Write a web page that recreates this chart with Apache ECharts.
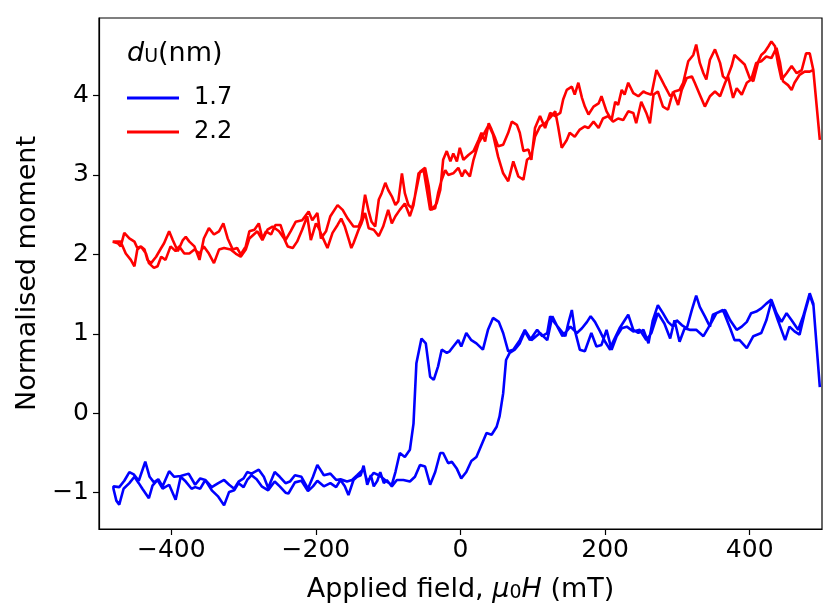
<!DOCTYPE html>
<html>
<head>
<meta charset="utf-8">
<script src="https://cdn.jsdelivr.net/npm/echarts@6/dist/echarts.min.js"></script>
<style>
  html, body { margin: 0; padding: 0; background: #fff; }
  #loopChart { width: 838px; height: 615px; }
</style>
</head>
<body>
<div id="loopChart"></div>
<script>
// d_U = 1.7 nm, branch swept down from +500 mT (listed here in rising field order)
const blueDownField = [-480, -472, -465, -458, -452, -445, -436, -430, -424, -418, -412, -403, -396, -387, -376, -367, -360, -353, -344, -335, -327, -320, -313, -307, -300, -295, -289, -279, -272, -266, -257, -250, -242, -236, -229, -220, -211, -204, -198, -189, -180, -172, -166, -157, -150, -143, -134, -129, -120, -111, -102, -95, -90, -84, -77, -70, -65, -61, -54, -48, -42, -37, -31, -26, -19, -15, -10, -3, 1, 8, 15, 22, 31, 38, 45, 53, 59, 66, 73, 82, 89, 98, 110, 120, 127, 134, 141, 152, 161, 168, 175, 180, 186, 193, 200, 207, 211, 220, 232, 239, 246, 253, 260, 266, 273, 280, 287, 294, 299, 306, 313, 320, 326, 331, 338, 345, 349, 359, 366, 373, 382, 389, 396, 402, 409, 416, 423, 430, 437, 444, 451, 458, 467, 474, 483, 488, 497];
const blueDownMoment = [-0.92, -0.93, -0.85, -0.74, -0.77, -0.85, -0.61, -0.80, -0.87, -0.83, -0.92, -0.73, -0.80, -0.79, -0.76, -0.90, -0.82, -0.84, -0.93, -0.88, -0.84, -0.90, -0.95, -0.86, -0.82, -0.74, -0.76, -0.71, -0.80, -0.94, -0.74, -0.80, -0.88, -0.86, -0.78, -0.80, -0.95, -0.80, -0.65, -0.78, -0.76, -0.84, -0.83, -0.86, -0.84, -0.78, -0.70, -0.86, -0.75, -0.79, -0.86, -0.90, -0.74, -0.50, -0.55, -0.46, -0.13, 0.63, 0.94, 0.88, 0.46, 0.42, 0.59, 0.80, 0.76, 0.78, 0.84, 0.92, 0.84, 1.01, 0.92, 0.88, 0.80, 1.05, 1.20, 1.15, 1.01, 0.78, 0.80, 0.92, 1.05, 0.92, 1.01, 0.92, 1.22, 1.09, 0.97, 1.09, 1.01, 1.07, 1.15, 1.22, 1.15, 1.03, 0.90, 0.80, 0.90, 1.07, 1.24, 1.05, 1.01, 1.05, 0.88, 1.17, 1.36, 1.26, 1.15, 1.09, 1.17, 1.11, 1.07, 1.30, 1.48, 1.34, 1.22, 1.09, 1.24, 1.28, 1.30, 1.17, 1.05, 1.09, 1.15, 1.26, 1.28, 1.32, 1.38, 1.43, 1.26, 1.15, 1.26, 1.17, 1.05, 1.22, 1.51, 1.38, 0.33];

// d_U = 1.7 nm, branch swept back up from -480 mT
const blueUpField = [-480, -476, -472, -466, -458, -451, -445, -440, -431, -426, -419, -412, -403, -394, -387, -380, -372, -367, -360, -353, -344, -335, -327, -320, -313, -307, -300, -295, -289, -282, -275, -266, -257, -250, -242, -238, -229, -220, -211, -204, -198, -189, -180, -172, -166, -160, -155, -148, -143, -138, -134, -129, -124, -120, -115, -111, -106, -102, -95, -88, -79, -70, -63, -56, -49, -42, -35, -28, -24, -17, -12, -5, 1, 8, 15, 22, 29, 36, 43, 50, 54, 59, 63, 68, 75, 82, 89, 96, 106, 113, 120, 124, 131, 138, 145, 149, 154, 158, 165, 172, 181, 188, 195, 202, 209, 216, 223, 230, 239, 248, 257, 264, 273, 282, 290, 296, 303, 310, 317, 326, 336, 345, 354, 363, 373, 379, 386, 396, 405, 416, 423, 430, 439, 449, 455, 462, 469, 476, 483, 488];
const blueUpMoment = [-0.95, -1.10, -1.15, -0.95, -0.88, -0.80, -0.88, -0.95, -1.07, -0.91, -0.84, -0.95, -0.90, -1.09, -0.80, -0.86, -0.95, -0.93, -0.95, -0.84, -0.97, -1.05, -1.16, -0.99, -0.97, -0.88, -0.93, -0.84, -0.78, -0.83, -0.92, -0.97, -0.86, -0.92, -1.00, -1.01, -0.87, -0.85, -0.98, -0.92, -0.85, -0.92, -0.88, -0.93, -0.84, -0.92, -1.03, -0.84, -0.80, -0.78, -0.66, -0.90, -0.78, -0.92, -0.85, -0.74, -0.88, -0.84, -0.92, -0.84, -0.84, -0.86, -0.80, -0.65, -0.67, -0.90, -0.74, -0.50, -0.50, -0.63, -0.61, -0.70, -0.82, -0.74, -0.60, -0.55, -0.40, -0.25, -0.27, -0.17, -0.04, 0.25, 0.67, 0.76, 0.80, 0.88, 1.03, 0.92, 1.05, 0.97, 1.01, 1.22, 1.13, 1.05, 0.97, 1.13, 1.30, 1.05, 0.80, 0.78, 1.01, 0.84, 0.86, 1.05, 0.80, 0.97, 1.07, 1.09, 1.03, 1.05, 0.92, 1.01, 1.26, 1.13, 0.94, 1.17, 0.90, 1.07, 1.05, 1.05, 0.97, 1.11, 1.26, 1.30, 1.07, 0.92, 0.92, 0.82, 0.97, 1.01, 1.17, 1.41, 1.17, 0.92, 1.09, 1.03, 0.99, 1.26, 1.49, 1.36];

// d_U = 2.2 nm, branch swept down from +500 mT (rising field order)
const redDownField = [-481, -474, -470, -465, -458, -451, -447, -442, -437, -433, -428, -421, -414, -410, -403, -398, -391, -384, -380, -375, -368, -361, -355, -348, -341, -334, -328, -322, -315, -309, -304, -297, -292, -285, -279, -274, -269, -262, -256, -249, -242, -235, -228, -219, -210, -205, -198, -193, -186, -180, -170, -163, -156, -148, -141, -137, -132, -127, -123, -118, -113, -109, -104, -100, -95, -90, -86, -81, -77, -72, -67, -63, -56, -49, -44, -40, -33, -28, -24, -19, -14, -10, -5, -1, 4, 11, 18, 25, 29, 34, 39, 43, 48, 52, 59, 66, 71, 78, 82, 87, 94, 98, 103, 110, 117, 124, 131, 138, 142, 147, 154, 158, 163, 168, 172, 177, 184, 191, 195, 202, 209, 214, 218, 223, 227, 232, 239, 246, 253, 257, 264, 271, 278, 283, 290, 296, 303, 308, 315, 322, 326, 331, 336, 340, 345, 352, 359, 363, 368, 375, 379, 386, 393, 400, 405, 412, 416, 421, 426, 430, 435, 439, 444, 451, 458, 465, 472, 478, 483, 488, 497];
const redDownMoment = [2.16, 2.14, 2.10, 2.27, 2.20, 2.16, 2.08, 2.10, 2.06, 1.93, 1.89, 1.97, 2.08, 2.14, 2.29, 2.18, 2.04, 2.18, 2.22, 2.16, 2.10, 1.93, 2.20, 2.33, 2.25, 2.29, 2.39, 2.20, 2.06, 2.08, 2.00, 2.10, 2.29, 2.31, 2.39, 2.20, 2.29, 2.25, 2.37, 2.37, 2.18, 2.29, 2.41, 2.43, 2.54, 2.43, 2.52, 2.20, 2.29, 2.48, 2.62, 2.56, 2.45, 2.35, 2.35, 2.44, 2.75, 2.54, 2.41, 2.35, 2.69, 2.77, 2.90, 2.81, 2.73, 2.62, 2.67, 3.02, 2.77, 2.62, 2.58, 2.73, 3.04, 3.09, 2.86, 2.56, 2.64, 2.81, 3.19, 3.30, 3.17, 3.27, 3.17, 3.34, 3.19, 3.25, 3.30, 3.44, 3.53, 3.42, 3.65, 3.57, 3.46, 3.36, 3.38, 3.53, 3.67, 3.63, 3.53, 3.30, 3.32, 3.19, 3.59, 3.74, 3.59, 3.78, 3.74, 3.78, 3.95, 4.07, 4.11, 4.01, 4.16, 3.97, 3.86, 3.76, 3.86, 3.90, 3.99, 3.80, 3.69, 3.92, 3.88, 4.07, 4.01, 4.16, 4.03, 3.99, 4.05, 4.03, 4.01, 4.32, 4.20, 4.11, 3.99, 4.05, 4.07, 4.16, 4.43, 4.51, 4.64, 4.41, 4.28, 4.20, 4.45, 4.58, 4.41, 4.24, 4.20, 4.37, 4.51, 4.45, 4.39, 4.22, 4.18, 4.43, 4.51, 4.55, 4.62, 4.68, 4.62, 4.41, 4.20, 4.28, 4.37, 4.28, 4.32, 4.53, 4.53, 4.32, 3.44];

// d_U = 2.2 nm, branch swept back up from -480 mT
const redUpField = [-481, -470, -463, -456, -451, -447, -442, -435, -431, -424, -419, -414, -408, -401, -394, -389, -382, -375, -368, -361, -355, -348, -341, -334, -327, -318, -311, -304, -297, -292, -281, -274, -267, -260, -251, -244, -239, -232, -226, -219, -212, -207, -200, -196, -191, -184, -177, -170, -165, -160, -155, -151, -148, -141, -137, -132, -127, -120, -113, -107, -100, -95, -90, -84, -77, -70, -65, -58, -51, -42, -35, -31, -26, -21, -17, -10, -3, 2, 6, 13, 18, 25, 32, 39, 45, 52, 59, 66, 73, 80, 87, 92, 98, 103, 110, 117, 124, 131, 135, 140, 147, 151, 158, 165, 172, 177, 184, 191, 197, 204, 211, 218, 225, 232, 239, 243, 250, 257, 262, 267, 273, 280, 287, 294, 301, 306, 313, 320, 324, 331, 338, 345, 352, 359, 366, 370, 377, 382, 389, 396, 402, 409, 416, 423, 430, 437, 442, 446, 453, 458, 462, 469, 476, 483, 488];
const redUpMoment = [2.16, 2.16, 2.01, 1.93, 1.85, 2.06, 2.10, 2.01, 1.89, 1.83, 1.85, 1.97, 1.93, 2.10, 2.04, 2.10, 2.01, 2.01, 2.06, 2.01, 2.10, 2.01, 1.89, 2.06, 2.08, 2.06, 2.01, 1.97, 2.06, 2.20, 2.29, 2.18, 2.31, 2.35, 2.29, 2.20, 2.10, 2.08, 2.16, 2.31, 2.48, 2.18, 2.39, 2.33, 2.22, 2.08, 2.27, 2.37, 2.45, 2.35, 2.20, 2.08, 2.14, 2.31, 2.39, 2.52, 2.33, 2.31, 2.23, 2.35, 2.56, 2.39, 2.48, 2.56, 2.64, 2.48, 2.62, 3.02, 3.06, 2.56, 2.58, 2.77, 2.94, 3.06, 3.00, 3.02, 3.09, 2.98, 3.06, 2.98, 3.19, 3.40, 3.51, 3.63, 3.51, 3.23, 3.02, 2.92, 3.17, 2.98, 2.94, 3.19, 3.23, 3.48, 3.61, 3.65, 3.72, 3.80, 3.61, 3.34, 3.44, 3.53, 3.48, 3.57, 3.61, 3.59, 3.67, 3.59, 3.71, 3.74, 3.67, 3.71, 3.69, 3.80, 3.78, 3.65, 3.92, 3.78, 3.65, 4.01, 4.05, 3.86, 3.82, 4.05, 3.88, 4.07, 4.22, 4.24, 4.16, 4.01, 3.86, 3.99, 4.05, 3.99, 4.16, 4.24, 3.97, 4.09, 4.01, 4.16, 4.20, 4.41, 4.43, 4.49, 4.47, 4.60, 4.41, 4.18, 4.13, 4.07, 4.16, 4.26, 4.30, 4.30, 4.32];

const xTicks = [-400, -200, 0, 200, 400];
const yTicks = [-1, 0, 1, 2, 3, 4];
const seriesNames = ['1.7', '2.2'];

const FONT = 'DejaVu Sans';

// whole loop: down-sweep from +500 first, then back up
function loopPoints(downH, downM, upH, upM) {
  const pts = [];
  for (let i = downH.length - 1; i >= 0; i--) pts.push([downH[i], downM[i]]);
  for (let i = 0; i < upH.length; i++) pts.push([upH[i], upM[i]]);
  return pts;
}

const minusSign = v => String(v).replace('-', '\u2212');

document.addEventListener('DOMContentLoaded', () => {
  const chart = echarts.init(document.getElementById('loopChart'), null, { renderer: 'canvas' });

  chart.setOption({
    backgroundColor: '#fff',
    animation: false,
    textStyle: { fontFamily: FONT },
    grid: {
      left: 99, top: 18, width: 723, height: 511,
      show: true, borderColor: '#000', borderWidth: 1.2, backgroundColor: 'transparent'
    },
    legend: {
      orient: 'vertical',
      left: 122, top: 81,
      itemWidth: 52, itemHeight: 3, itemGap: 10,
      icon: 'rect',
      data: seriesNames,
      textStyle: { fontSize: 24, color: '#000', fontFamily: FONT, padding: [0, 0, 0, 10] }
    },
    graphic: [{
      type: 'text',
      left: 127, top: 40,
      style: {
        text: '{i|d}{s|U}{n|(nm)}',
        fill: '#000',
        rich: {
          i: { fontFamily: FONT, fontSize: 27, fontStyle: 'italic', lineHeight: 32, verticalAlign: 'bottom' },
          s: { fontFamily: FONT, fontSize: 19, lineHeight: 18, verticalAlign: 'bottom' },
          n: { fontFamily: FONT, fontSize: 27, lineHeight: 32, verticalAlign: 'bottom' }
        }
      }
    }],
    xAxis: {
      type: 'value',
      min: -500, max: 500,
      name: '{t|Applied field, }{i|\u03bc}{s|0}{i|H}{t| (mT)}',
      nameLocation: 'middle',
      nameGap: 42,
      nameTextStyle: {
        color: '#000',
        rich: {
          t: { fontFamily: FONT, fontSize: 27, lineHeight: 32, verticalAlign: 'bottom' },
          i: { fontFamily: FONT, fontSize: 27, fontStyle: 'italic', lineHeight: 32, verticalAlign: 'bottom' },
          s: { fontFamily: FONT, fontSize: 19, lineHeight: 14, verticalAlign: 'bottom' }
        }
      },
      axisLine: { show: true, onZero: false, lineStyle: { color: '#000', width: 1.2 } },
      axisTick: { show: true, customValues: xTicks, length: 6, lineStyle: { color: '#000', width: 1.2 } },
      axisLabel: {
        customValues: xTicks, margin: 9, fontSize: 25, color: '#000', fontFamily: FONT,
        formatter: minusSign
      },
      splitLine: { show: false }
    },
    yAxis: {
      type: 'value',
      min: -1.457, max: 4.975,
      name: 'Normalised moment',
      nameLocation: 'middle',
      nameGap: 58,
      nameTextStyle: { fontSize: 27, color: '#000', fontFamily: FONT },
      axisLine: { show: true, onZero: false, lineStyle: { color: '#000', width: 1.2 } },
      axisTick: { show: true, customValues: yTicks, length: 6, lineStyle: { color: '#000', width: 1.2 } },
      axisLabel: {
        customValues: yTicks, margin: 10, fontSize: 25, color: '#000', fontFamily: FONT,
        formatter: minusSign
      },
      splitLine: { show: false }
    },
    series: [
      {
        name: seriesNames[0],
        type: 'line',
        data: loopPoints(blueDownField, blueDownMoment, blueUpField, blueUpMoment),
        showSymbol: false,
        symbol: 'none',
        color: '#0000ff',
        lineStyle: { color: '#0000ff', width: 2.6 }
      },
      {
        name: seriesNames[1],
        type: 'line',
        data: loopPoints(redDownField, redDownMoment, redUpField, redUpMoment),
        showSymbol: false,
        symbol: 'none',
        color: '#ff0000',
        lineStyle: { color: '#ff0000', width: 2.6 }
      }
    ]
  });
});
</script>
</body>
</html>
